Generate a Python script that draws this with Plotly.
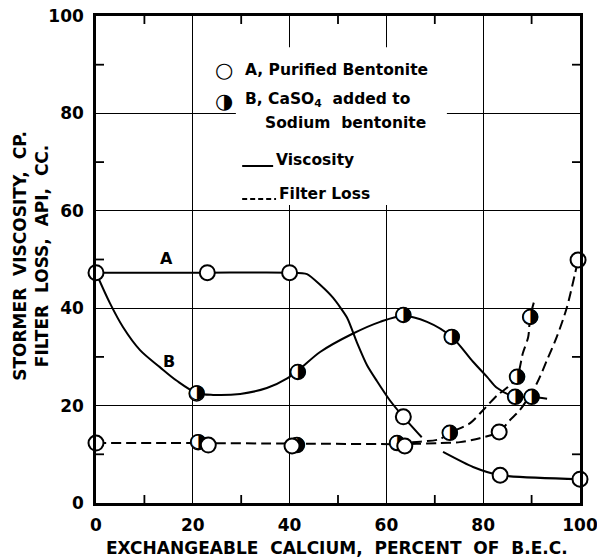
import plotly.graph_objects as go

# ---- data ----
# plotted points
a_visc_x = [0, 23, 40, 63.5, 83.5, 100]
a_visc_y = [47.3, 47.3, 47.3, 17.7, 5.7, 4.9]
b_visc_x = [20.8, 41.7, 63.5, 73.5, 86.6, 90.0]
b_visc_y = [22.5, 26.9, 38.6, 34.1, 21.8, 21.8]
a_filt_x = [0, 23.2, 40.5, 63.8, 83.3, 99.6]
a_filt_y = [12.3, 11.9, 11.7, 11.7, 14.6, 49.9]
b_filt_x = [21.1, 41.5, 62.2, 73.1, 87.0, 89.7]
b_filt_y = [12.5, 11.9, 12.3, 14.4, 25.9, 38.2]

# curves as traced on the reference
a_visc_curve_x = [0, 23, 40, 43.6, 46.3, 49, 51.9, 53.9, 56, 58, 60.7, 63.5, 67.3, None,
                  71.7, 77.9, 83.5, 100]
a_visc_curve_y = [47.3, 47.3, 47.3, 47.0, 44.8, 42.1, 38, 33, 28.3, 25.1, 21.1, 17.7, 13.5, None,
                  10.5, 7.4, 5.7, 4.9]
b_visc_curve_x = [0, 2.9, 5.6, 9.1, 13.2, 16.7, 20.8, 24.2, 29.8, 35.3, 39.5, 42.1, 46.3, 52.9,
                  58.7, 63.5, 68.4, 73.5, 77.9, 80.8, 82.9, 86.6, 90, 93.2]
b_visc_curve_y = [47.3, 41, 36.1, 31.4, 27.9, 25.1, 22.6, 22.2, 22.4, 23.6, 25.6, 27.5, 31, 34.7,
                  37.2, 38.4, 37.2, 34.1, 29, 25.9, 23.6, 21.8, 21.8, 21.4]
a_filt_curve_x = [0, 21, 41, 63.8, 71, 75.2, 79.3, 83.3, 85.5, 87.6, 91.1, 93.2, 95.2, 97.3, 99.6]
a_filt_curve_y = [12.3, 12.3, 12.2, 12.1, 12.3, 12.5, 13.3, 14.6, 17, 19.1, 24.6, 29.4, 34.1, 40.2, 49.9]
b_filt_curve_x = [62.2, 67, 71, 73.1, 77.3, 80, 83, 85.1, 87, 88.2, 89.3, 89.7, 90.7]
b_filt_curve_y = [12.3, 12.6, 13.1, 14.4, 16.4, 19.1, 22.2, 23.8, 25.9, 30.8, 34.1, 38.2, 42]

x_ticks = [0, 20, 40, 60, 80, 100]
y_ticks = [0, 20, 40, 60, 80, 100]
minor_x_ticks = [10, 30, 50, 70, 90]
minor_y_ticks = [10, 30, 50, 70, 90]

curve_labels = ["A", "B"]
curve_label_x = [14.5, 15.0]
curve_label_y = [50.3, 29.0]

FONT = "DejaVu Sans"
K = "black"

W, H = 597, 558
ML, MR, MT, MB = 96, 17, 16, 55

fig = go.Figure()

# minor inside ticks on all four sides (about 8 px long), in axis units
TICK_PX = 8
x0a, x1a = x_ticks[0], x_ticks[-1]
y0a, y1a = y_ticks[0], y_ticks[-1]
tlx = TICK_PX * (x1a - x0a) / (W - ML - MR)
tly = TICK_PX * (y1a - y0a) / (H - MT - MB)
tick_x, tick_y = [], []
for v in minor_x_ticks:
    tick_x += [v, v, None, v, v, None]
    tick_y += [y0a, y0a + tly, None, y1a, y1a - tly, None]
for v in minor_y_ticks:
    tick_x += [x0a, x0a + tlx, None, x1a, x1a - tlx, None]
    tick_y += [v, v, None, v, v, None]
fig.add_trace(go.Scatter(x=tick_x, y=tick_y, mode="lines", connectgaps=False,
                         line=dict(color=K, width=1.8), hoverinfo="skip", showlegend=False))

def line_trace(x, y, dash, smoothing=0.9):
    return go.Scatter(x=x, y=y, mode="lines", connectgaps=False,
                      line=dict(color=K, width=2, shape="spline", smoothing=smoothing, dash=dash),
                      hoverinfo="skip", showlegend=False)

fig.add_trace(line_trace(a_visc_curve_x, a_visc_curve_y, "solid", 0.6))
fig.add_trace(line_trace(b_visc_curve_x, b_visc_curve_y, "solid", 0.9))
fig.add_trace(line_trace(a_filt_curve_x, a_filt_curve_y, "10px,5px", 0.8))
fig.add_trace(line_trace(b_filt_curve_x, b_filt_curve_y, "10px,5px", 0.8))

# half-filled markers (B): white disc + glyph
for bx, by in ((b_visc_x, b_visc_y), (b_filt_x, b_filt_y)):
    fig.add_trace(go.Scatter(x=bx, y=by, mode="markers", cliponaxis=False,
                             marker=dict(symbol="circle", size=15, color="white",
                                         line=dict(color=K, width=1.5)),
                             hoverinfo="skip", showlegend=False))
    fig.add_trace(go.Scatter(x=bx, y=by, mode="text", cliponaxis=False,
                             text=["\u25D1"] * len(bx), textposition="middle center",
                             textfont=dict(family=FONT, size=20, color=K),
                             hoverinfo="skip", showlegend=False))

# open markers (A)
for ax_, ay_ in ((a_visc_x, a_visc_y), (a_filt_x, a_filt_y)):
    fig.add_trace(go.Scatter(x=ax_, y=ay_, mode="markers", cliponaxis=False,
                             marker=dict(symbol="circle", size=15, color="white",
                                         line=dict(color=K, width=2)),
                             hoverinfo="skip", showlegend=False))

def axis_opts(ticks):
    return dict(
        range=[ticks[0], ticks[-1]], tickmode="array", tickvals=ticks,
        ticktext=[str(v) for v in ticks],
        showgrid=True, gridcolor=K, gridwidth=1.2,
        showline=True, linecolor=K, linewidth=2.5, mirror=True,
        ticks="", zeroline=False,
        tickfont=dict(family=FONT, size=17, color=K, weight="bold"),
        ticklabeloverflow="allow", automargin=False, fixedrange=True,
    )

fig.update_xaxes(**axis_opts(x_ticks), ticklabelstandoff=5)
fig.update_yaxes(**axis_opts(y_ticks), ticklabelstandoff=6)

shapes = [
    # legend background (hides grid behind legend)
    dict(type="rect", xref="paper", yref="paper", x0=0.289, x1=0.725, y0=0.612, y1=0.936,
         fillcolor="white", line=dict(width=0), layer="above"),
    dict(type="line", xref="paper", yref="paper", x0=0.302, x1=0.366, y0=0.692, y1=0.692,
         line=dict(color=K, width=2), layer="above"),
    dict(type="line", xref="paper", yref="paper", x0=0.302, x1=0.372, y0=0.624, y1=0.624,
         line=dict(color=K, width=2, dash="5px,3px"), layer="above"),
]

leg_font = dict(family=FONT, size=15.5, color=K, weight="bold")
annotations = [
    dict(xref="paper", yref="paper", x=0.264, y=0.889, text="\u25CB", showarrow=False,
         font=dict(family=FONT, size=21, color=K), xanchor="center", yanchor="middle"),
    dict(xref="paper", yref="paper", x=0.304, y=0.889, text="A, Purified Bentonite",
         showarrow=False, font=leg_font, xanchor="left", yanchor="middle"),
    dict(xref="paper", yref="paper", x=0.264, y=0.825, text="\u25D1", showarrow=False,
         font=dict(family=FONT, size=21, color=K), xanchor="center", yanchor="middle"),
    dict(xref="paper", yref="paper", x=0.304, y=0.827, text="B, CaSO<sub>4</sub>  added to",
         showarrow=False, font=leg_font, xanchor="left", yanchor="middle"),
    dict(xref="paper", yref="paper", x=0.345, y=0.780, text="Sodium  bentonite",
         showarrow=False, font=leg_font, xanchor="left", yanchor="middle"),
    dict(xref="paper", yref="paper", x=0.368, y=0.704, text="Viscosity",
         showarrow=False, font=leg_font, xanchor="left", yanchor="middle"),
    dict(xref="paper", yref="paper", x=0.374, y=0.634, text="Filter Loss",
         showarrow=False, font=leg_font, xanchor="left", yanchor="middle"),
    # axis titles
    dict(xref="paper", yref="paper", x=0.498, y=-0.092,
         text="EXCHANGEABLE  CALCIUM,  PERCENT  OF  B.E.C.", showarrow=False,
         font=dict(family=FONT, size=17, color=K, weight="bold"),
         xanchor="center", yanchor="middle"),
    dict(xref="paper", yref="paper", x=-0.136, y=0.508,
         text="STORMER  VISCOSITY,  CP.<br>FILTER  LOSS,  API,  CC.", showarrow=False,
         font=dict(family=FONT, size=17, color=K, weight="bold"), textangle=-90,
         xanchor="center", yanchor="middle"),
]
for t, lx, ly in zip(curve_labels, curve_label_x, curve_label_y):
    annotations.append(dict(x=lx, y=ly, xref="x", yref="y", text=t, showarrow=False,
                            font=dict(family=FONT, size=16, color=K, weight="bold")))

fig.update_layout(
    width=W, height=H, margin=dict(l=ML, r=MR, t=MT, b=MB, autoexpand=False),
    paper_bgcolor="white", plot_bgcolor="white", showlegend=False,
    font=dict(family=FONT, color=K), shapes=shapes, annotations=annotations,
)

fig.write_html("out.html")
